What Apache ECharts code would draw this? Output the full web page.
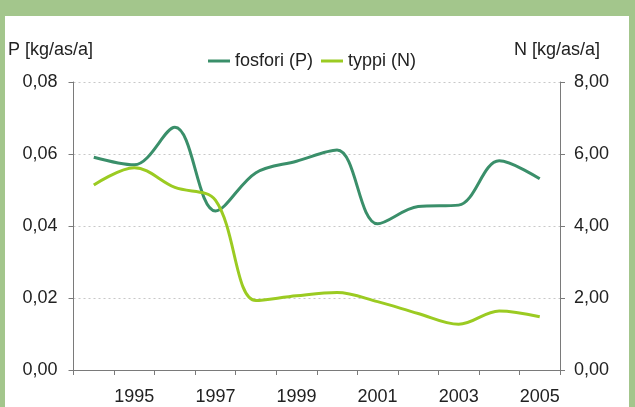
<!DOCTYPE html>
<html><head><meta charset="utf-8">
<script src="https://cdn.jsdelivr.net/npm/echarts@6/dist/echarts.min.js"></script>
<style>
html,body{margin:0;padding:0;background:#a3c68c;width:635px;height:407px;overflow:hidden;}
#frame{position:absolute;left:5px;top:16px;width:624px;height:391px;background:#fff;}
#chart{width:624px;height:391px;}
</style></head>
<body><div id="frame"><div id="chart"></div></div>
<script>
const years = ['1994','1995','1996','1997','1998','1999','2000','2001','2002','2003','2004','2005'];
const fosfori = [0.0591,0.0570,0.0674,0.0442,0.0548,0.0580,0.0611,0.0406,0.0454,0.0458,0.0581,0.0531];
const typpi = [5.14,5.62,5.07,4.72,1.93,2.06,2.15,1.90,1.57,1.27,1.64,1.48];
const leftTicks = {min:0, max:0.08, interval:0.02};
const rightTicks = {min:0, max:8, interval:2};
const names = {p:'fosfori (P)', n:'typpi (N)', left:'P [kg/as/a]', right:'N [kg/as/a]'};

const FONT = 'Liberation Sans, Arial, sans-serif';
const FS = 18;
const chart = echarts.init(document.getElementById('chart'));
const axisLineStyle = {color:'#7a7a7a', width:1};
chart.setOption({
  animation:false,
  textStyle:{fontFamily:FONT},
  legend:{
    left:203, top:36, padding:0, itemWidth:22, itemHeight:3, itemGap:8, icon:'rect',
    textStyle:{fontSize:FS, color:'#222', fontFamily:FONT},
    data:[names.p, names.n]
  },
  grid:{left:65, right:69, top:66, bottom:37},
  xAxis:{
    type:'category', data:years, boundaryGap:true,
    axisLine:{lineStyle:axisLineStyle},
    axisTick:{show:true, interval:0, length:5, lineStyle:axisLineStyle},
    axisLabel:{interval:function(i){return i%2===1;}, margin:18, fontSize:FS, color:'#222', fontFamily:FONT}
  },
  yAxis:[{
    type:'value', position:'left', min:leftTicks.min, max:leftTicks.max, interval:leftTicks.interval,
    name:names.left, nameLocation:'end', nameGap:23,
    nameTextStyle:{fontSize:FS, color:'#222', align:'center', padding:[0,46,0,0], fontFamily:FONT},
    axisLine:{show:true, lineStyle:axisLineStyle},
    axisTick:{show:true, length:5, lineStyle:axisLineStyle},
    axisLabel:{margin:16, fontSize:FS, color:'#222', fontFamily:FONT,
      formatter:function(v){return v.toFixed(2).replace('.',',');}},
    splitLine:{show:true, lineStyle:{color:'#c8c8c8', type:[2,3], width:1}}
  },{
    type:'value', position:'right', min:rightTicks.min, max:rightTicks.max, interval:rightTicks.interval,
    name:names.right, nameLocation:'end', nameGap:23,
    nameTextStyle:{fontSize:FS, color:'#222', align:'center', padding:[0,6,0,0], fontFamily:FONT},
    axisLine:{show:true, lineStyle:axisLineStyle},
    axisTick:{show:true, length:5, lineStyle:axisLineStyle},
    axisLabel:{margin:14, fontSize:FS, color:'#222', fontFamily:FONT,
      formatter:function(v){return v.toFixed(2).replace('.',',');}},
    splitLine:{show:false}
  }],
  series:[{
    name:names.p, type:'line', yAxisIndex:0, data:fosfori, smooth:0.35, showSymbol:false, symbol:'none',
    lineStyle:{color:'#3a8f6a', width:3}, itemStyle:{color:'#3a8f6a'}
  },{
    name:names.n, type:'line', yAxisIndex:1, data:typpi, smooth:0.35, showSymbol:false, symbol:'none',
    lineStyle:{color:'#9bcb22', width:3}, itemStyle:{color:'#9bcb22'}
  }]
});
</script></body></html>
